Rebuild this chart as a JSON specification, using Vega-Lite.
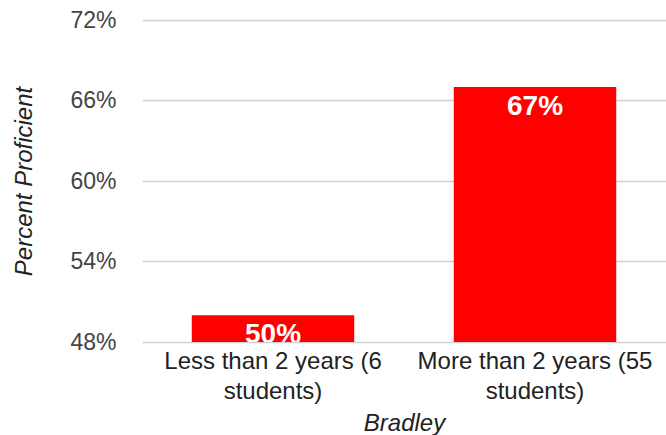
{
  "$schema": "https://vega.github.io/schema/vega-lite/v6.json",
  "autosize": "none",
  "width": 524,
  "height": 322,
  "padding": {"left": 142, "top": 20, "right": 0, "bottom": 93},
  "background": "white",
  "config": {"view": {"stroke": null}, "font": "Liberation Sans"},
  "data": {"values": [
    {"group": "Less than 2 years (6 students)", "pct": 0.50},
    {"group": "More than 2 years (55 students)", "pct": 0.67}
  ]},
  "encoding": {
    "x": {
      "field": "group", "type": "nominal", "sort": null,
      "scale": {"paddingInner": 0.38, "paddingOuter": 0.19},
      "axis": {
        "title": "Bradley", "titleFont": "Liberation Sans", "titleFontStyle": "italic", "titleFontWeight": "normal",
        "titleFontSize": 24, "titleColor": "#222", "titlePadding": 8,
        "labelAngle": 0, "labelFontSize": 24, "labelColor": "#222", "labelPadding": 7, "labelLineHeight": 30,
        "labelExpr": "[slice(datum.label, 0, indexof(datum.label, ' students')), slice(datum.label, indexof(datum.label, ' students') + 1)]",
        "domain": false, "ticks": false, "labelLimit": 400
      }
    },
    "y": {
      "field": "pct", "type": "quantitative",
      "scale": {"domain": [0.48, 0.72], "nice": false, "zero": false},
      "axis": {
        "title": "Percent Proficient", "titleFontStyle": "italic", "titleFontWeight": "normal", "titleFontSize": 24,
        "titleColor": "#222", "titlePadding": 33,
        "values": [0.48, 0.54, 0.60, 0.66, 0.72], "format": ".0%",
        "labelFontSize": 23, "labelColor": "#444", "labelPadding": 26,
        "domain": false, "ticks": false, "grid": true, "gridColor": "#d0d0d0", "gridWidth": 1.5
      }
    }
  },
  "layer": [
    {"mark": {"type": "bar", "color": "#ff0000", "clip": true}},
    {
      "mark": {"type": "text", "baseline": "top", "dy": 6, "color": "white", "fontWeight": "bold", "fontSize": 28, "clip": true},
      "encoding": {"text": {"field": "pct", "type": "quantitative", "format": ".0%"}}
    }
  ]
}
